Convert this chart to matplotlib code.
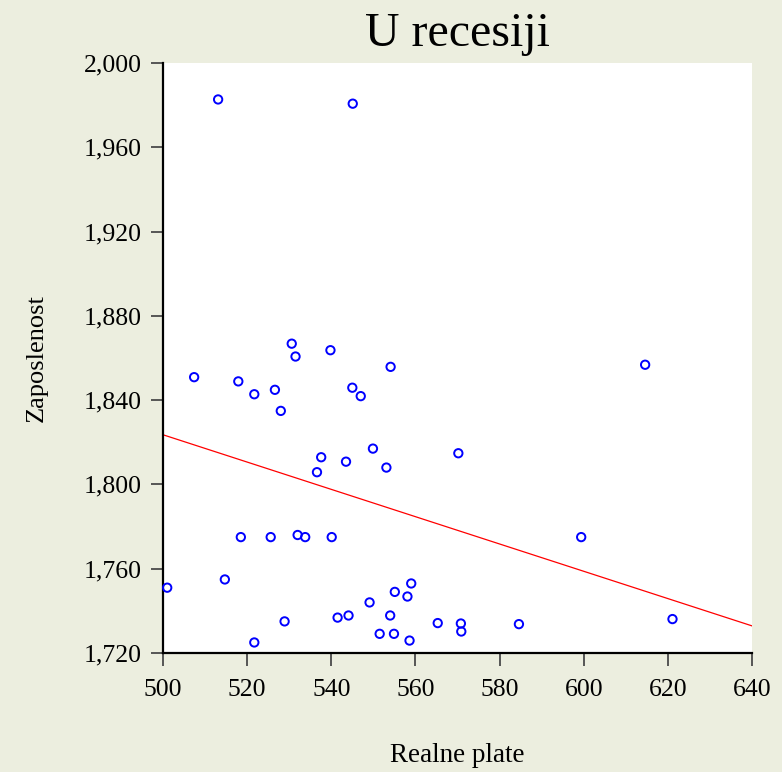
import numpy as np
import matplotlib
matplotlib.use("Agg")
import matplotlib.pyplot as plt
from matplotlib.ticker import FuncFormatter, MultipleLocator

realne_plate = [501.0, 514.7, 518.5, 525.6, 532.0, 533.8, 540.1, 521.7, 528.9, 541.5,
                544.1, 549.1, 551.5, 554.0, 554.9, 555.1, 558.1, 558.6, 559.0, 565.3,
                570.8, 570.9, 584.6, 599.4, 621.1,
                507.4, 517.9, 521.7, 526.6, 528.0, 530.6, 531.5, 539.8, 545.0, 547.0,
                554.1, 549.9, 537.6, 543.5, 536.6, 553.1, 570.2, 614.6,
                513.1, 545.1]
zaposlenost = [1751.0, 1754.9, 1775.0, 1775.0, 1776.0, 1775.0, 1775.0, 1725.0, 1735.0, 1736.8,
               1737.8, 1744.0, 1729.1, 1737.8, 1729.1, 1749.0, 1746.8, 1725.9, 1753.0, 1734.2,
               1734.0, 1730.2, 1733.7, 1775.0, 1736.1,
               1850.9, 1848.9, 1842.8, 1844.9, 1834.9, 1866.8, 1860.7, 1863.7, 1845.9, 1841.9,
               1855.8, 1817.0, 1812.9, 1810.8, 1805.8, 1808.0, 1814.8, 1856.8,
               1982.7, 1980.7]

title = "U recesiji"
xlabel = "Realne plate"
ylabel = "Zaposlenost"
x_range = [500, 640]
y_range = [1720, 2000]

bg = "#ECEEDF"
plt.rcParams['font.family'] = ['Liberation Serif', 'DejaVu Serif']

fig = plt.figure(figsize=(7.82, 7.72), dpi=100, facecolor=bg)
ax = fig.add_axes([163/782, 1-653/772, (752-163)/782, (653-63)/772])
ax.set_facecolor("white")

ax.scatter(realne_plate, zaposlenost, s=36, facecolors="none", edgecolors="#0000FF",
           linewidths=1.4, zorder=3, clip_on=False)

slope, intercept = np.polyfit(realne_plate, zaposlenost, 1)
xs = np.array(x_range, dtype=float)
ax.plot(xs, intercept + slope * xs, color="#FF0000", lw=0.9, zorder=2)

ax.set_xlim(*x_range)
ax.set_ylim(*y_range)
ax.xaxis.set_major_locator(MultipleLocator(20))
ax.yaxis.set_major_locator(MultipleLocator(40))
ax.yaxis.set_major_formatter(FuncFormatter(lambda v, p: f"{int(v):,}"))

for s in ["top", "right"]:
    ax.spines[s].set_visible(False)
for s in ["left", "bottom"]:
    ax.spines[s].set_linewidth(1.6)
    ax.spines[s].set_color("black")

ax.tick_params(axis="both", direction="out", length=9, width=1.4, color="#555555",
               labelsize=18.5)
ax.tick_params(axis="x", pad=10)
ax.tick_params(axis="y", pad=6)

ax.set_title(title, fontsize=34.5, pad=12)
ax.set_xlabel(xlabel, fontsize=19.5, labelpad=30)
ax.set_ylabel(ylabel, fontsize=19, labelpad=26)

fig.savefig("out.png", dpi=100, facecolor=bg)
